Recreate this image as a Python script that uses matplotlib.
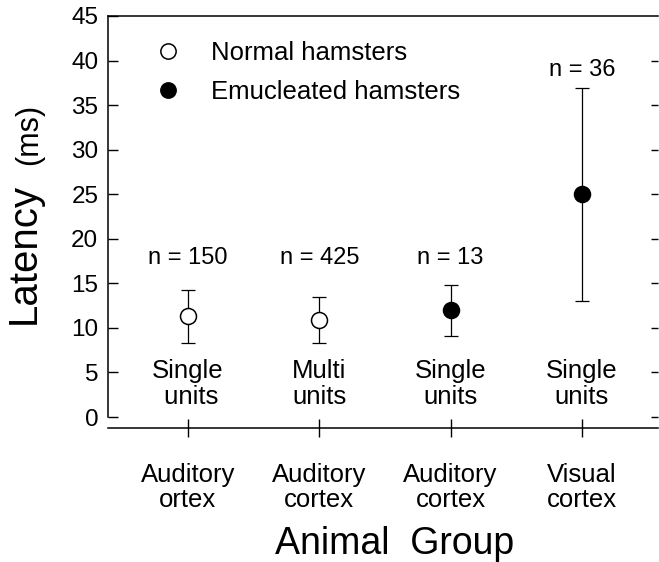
import matplotlib
matplotlib.use('Agg')
import matplotlib.pyplot as plt
import numpy as np

plt.rcParams['font.family'] = ['Liberation Sans', 'DejaVu Sans']

# Data
groups = ['Auditory\nortex', 'Auditory\ncortex', 'Auditory\ncortex', 'Visual\ncortex']
unit_labels = ['Single\n units', 'Multi\nunits', 'Single\nunits', 'Single\nunits']
n_labels = ['n = 150', 'n = 425', 'n = 13', 'n = 36']
latency = [11.3, 10.9, 12.0, 25.0]
err_low = [8.3, 8.3, 9.1, 13.0]
err_high = [14.2, 13.5, 14.8, 36.9]
enucleated = [False, False, True, True]
legend_labels = ['Normal hamsters', 'Emucleated hamsters']

x = np.arange(1, len(groups) + 1)
lat = np.array(latency)
yerr = [lat - np.array(err_low), np.array(err_high) - lat]

fig = plt.figure(figsize=(6.59, 5.62), dpi=100)
ax = fig.add_axes([108 / 659, 1 - 428 / 562, 550 / 659, 412 / 562])

# Error bars
ax.errorbar(x, lat, yerr=yerr, fmt='none', ecolor='black', elinewidth=0.9,
            capsize=5, capthick=0.9, zorder=2)

# Points
for xi, yi, filled in zip(x, lat, enucleated):
    ax.plot(xi, yi, 'o', markersize=11.5, markeredgewidth=1.1,
            markeredgecolor='black', markerfacecolor='black' if filled else 'white',
            zorder=3)

# Legend handles
h_open, = ax.plot([], [], 'o', markersize=11, markeredgewidth=1.1,
                  markeredgecolor='black', markerfacecolor='white')
h_fill, = ax.plot([], [], 'o', markersize=11, markeredgewidth=1.1,
                  markeredgecolor='black', markerfacecolor='black')
ax.legend([h_open, h_fill], legend_labels, loc='upper left',
          bbox_to_anchor=(0.071, 0.965), frameon=False, fontsize=18.5,
          handlelength=0.8, handletextpad=1.3, labelspacing=0.6,
          borderaxespad=0)

# n labels and unit labels
n_y = [17.9, 17.9, 17.9, 38.9]
for xi, txt, ny in zip(x, n_labels, n_y):
    ax.text(xi, ny, txt, ha='center', va='center', fontsize=17)
for xi, txt in zip(x, unit_labels):
    ax.text(xi, 3.75, txt, ha='center', va='center', fontsize=18.5,
            linespacing=1.1)

ax.set_xlim(0.391, 4.579)
ax.set_ylim(-1.23, 45)
ax.set_yticks(range(0, 46, 5))
ax.set_xticks(x)
ax.set_xticklabels(groups, fontsize=18.5, linespacing=1.05)

ax.spines['right'].set_visible(False)
ax.spines['left'].set_bounds(0, 45)
for s in ['left', 'top', 'bottom']:
    ax.spines[s].set_linewidth(1.1)

ax.tick_params(axis='y', direction='in', length=7, width=1.0, labelsize=17.5,
               pad=7, right=True)
ax.tick_params(axis='x', direction='inout', length=13, width=1.0, pad=19)

# right-hand ticks shorter, no 45 tick on the right
for t in ax.yaxis.get_major_ticks():
    t.tick2line.set_markersize(5)
ax.yaxis.get_major_ticks()[-1].tick2line.set_visible(False)

ax.set_xlabel('Animal  Group', fontsize=27, va='center')
ax.xaxis.set_label_coords((395 - 108) / 550, -(544 - 428) / 412)

fig.text(24 / 659, 1 - 254 / 562, 'Latency', rotation=90, fontsize=29,
         ha='center', va='center')
fig.text(29 / 659, 1 - 134 / 562, '(ms)', rotation=90, fontsize=22,
         ha='center', va='center')

fig.savefig('out.png', dpi=100)
